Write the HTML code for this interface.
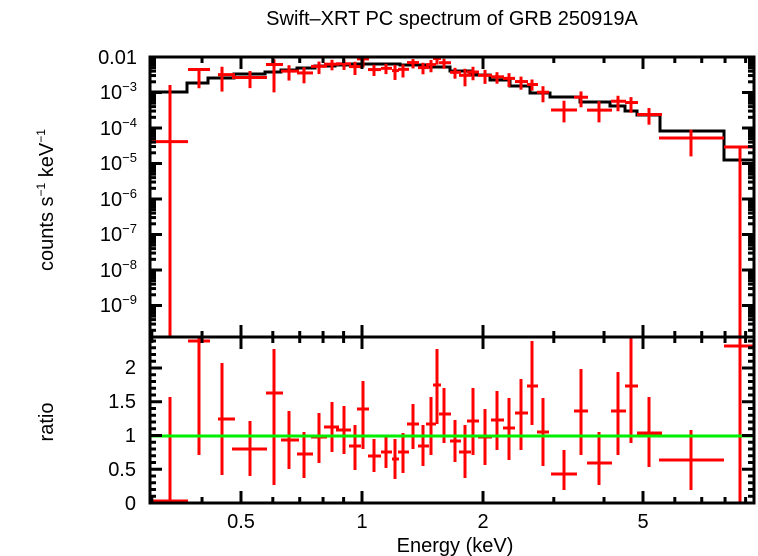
<!DOCTYPE html>
<html><head><meta charset="utf-8"><style>
body{margin:0;background:#fff;width:758px;height:556px;overflow:hidden}
svg{position:absolute;left:0;top:0}
text{font-family:"Liberation Sans",sans-serif;fill:#000}
</style></head><body>
<svg id="s" width="758" height="556" viewBox="0 0 758 556" xmlns="http://www.w3.org/2000/svg">
<text x="452" y="25" font-size="20" text-anchor="middle">Swift–XRT PC spectrum of GRB 250919A</text>
<text transform="translate(53,200) rotate(-90)" font-size="20" text-anchor="middle">counts s<tspan font-size="12" dy="-8">−1</tspan><tspan dy="8"> keV</tspan><tspan font-size="12" dy="-8">−1</tspan></text>
<text transform="translate(53,422) rotate(-90)" font-size="20" text-anchor="middle">ratio</text>
<text x="455" y="552" font-size="20" text-anchor="middle">Energy (keV)</text>
<g font-size="20" text-anchor="end">
<text x="137" y="64">0.01</text>
<text x="137" y="99">10<tspan font-size="13" dy="-8">−3</tspan></text>
<text x="137" y="135">10<tspan font-size="13" dy="-8">−4</tspan></text>
<text x="137" y="170">10<tspan font-size="13" dy="-8">−5</tspan></text>
<text x="137" y="206">10<tspan font-size="13" dy="-8">−6</tspan></text>
<text x="137" y="241">10<tspan font-size="13" dy="-8">−7</tspan></text>
<text x="137" y="277">10<tspan font-size="13" dy="-8">−8</tspan></text>
<text x="137" y="312">10<tspan font-size="13" dy="-8">−9</tspan></text>
<text x="136" y="374">2</text>
<text x="136" y="408">1.5</text>
<text x="136" y="510">0</text>
<text x="136" y="476">0.5</text>
<text x="136" y="442">1</text>
</g>
<g font-size="20" text-anchor="middle">
<text x="241" y="528">0.5</text><text x="362" y="528">1</text><text x="483" y="528">2</text><text x="643" y="528">5</text>
</g>
<g id="g"></g>
</svg>
<script>
var g=document.getElementById('g'),h='';
function L(x1,y1,x2,y2,c,w){h+='<line x1="'+x1+'" y1="'+y1+'" x2="'+x2+'" y2="'+y2+'" stroke="'+c+'" stroke-width="'+w+'"/>';}
var X0=150,X1=754,T=57,M=337,B=503;
function ex(E){return 362+402*Math.log10(E);}
function yl(v){return 57+35.5*(-2-Math.log10(v));}
function yr(r){return 503-67.5*r;}
var st=[[187,92],[208,83],[234,78],[265,74],[281,72],[297,70],[315,68],[335,66],[350,65],[400,64],[430,65],[450,67],[470,71],[490,75],[510,80],[530,86],[550,93],[580,97],[610,102],[625,106],[637,111],[660,115],[724,131],[754,160]];
function my(x){for(var i=0;i<st.length;i++)if(x<st[i][0])return st[i][1];return 160;}
var d='M150,'+st[0][1];
st.forEach(function(s,i){d+=' L'+s[0]+','+s[1];if(i<st.length-1)d+=' L'+s[0]+','+st[i+1][1];});
h+='<path d="'+d+'" fill="none" stroke="#000" stroke-width="3"/>';
var P=[[170,150,188,501,397,503],[199,188,210,341,337,455],[222,218,235,419,363,475],[250,232,267,449,421,476],[274,266,283,393,349,485],[289,281,299,440,411,469],[304,297,313,454,432,478],[319,311,327,437,413,463],[332,324,339,427,402,452],[344,336,351,430,406,454],[355,349,361,446,425,470],[363,357,369,409,381,449],[374,368,381,456,439,472],[386,381,392,452,435,468],[395,392,399,459,439,479],[403,398,409,452,433,473],[413,407,419,424,404,449],[423,418,429,446,425,466],[431,426,436,424,397,455],[437,433,441,385,349,424],[444,439,451,414,388,443],[455,450,461,441,420,462],[465,459,471,452,425,478],[473,467,479,421,388,455],[485,478,492,437,409,465],[497,491,504,420,391,450],[509,503,515,428,398,460],[521,515,528,413,379,450],[532,527,538,386,341,425],[543,537,549,432,398,466],[564,551,577,474,450,490],[581,574,588,411,369,455],[599,587,612,463,432,485],[618,611,626,411,372,455],[631,625,638,386,337,443],[649,637,662,433,397,467],[691,659,724,460,430,490],[740,724,754,346,337,503]];
var R='#f00';
P.forEach(function(p){
 var r=(B-p[3])/67.5, rt=(B-p[4])/67.5, rb=(B-p[5])/67.5;
 L(p[1],p[3],p[2],p[3],R,3);L(p[0],Math.max(p[4],M),p[0],Math.min(p[5],B),R,3);
 var m=my(p[0]);
 function cy(q){return q<=0.001?M:Math.min(M,m-35.5*Math.log10(q));}
 var yc=cy(Math.max(r,0.04));
 L(p[1],yc,p[2],yc,R,3);L(p[0],Math.max(T,cy(rt)),p[0],cy(rb),R,3);
});
L(X0,436,X1,436,'#0e0',3);
h+='<rect x="150" y="57" width="604" height="280" fill="none" stroke="#000" stroke-width="3"/>';
h+='<rect x="150" y="337" width="604" height="166" fill="none" stroke="#000" stroke-width="3"/>';
for(var k=-10;k<=-2;k++){for(var j=1;j<10;j++){var v=j*Math.pow(10,k),y=yl(v);if(y<T||y>M)continue;var len=j==1?12:6;L(X0,y,X0+len,y,'#000',3);L(X1,y,X1-len,y,'#000',3);}}
for(var r=0;r<=2.45;r+=0.1){var y=yr(r),big=Math.abs(r*2-Math.round(r*2))<0.01;var len=big?12:6;L(X0,y,X0+len,y,'#000',3);L(X1,y,X1-len,y,'#000',3);}
[0.3,0.4,0.5,0.6,0.7,0.8,0.9,1,2,3,4,5,6,7,8,9].forEach(function(E){var x=ex(E);if(x<X0||x>X1)return;var big=[0.5,1,2,5].indexOf(E)>=0,len=big?12:6;
 L(x,B,x,B-len,'#000',3);L(x,T,x,T+len,'#000',3);L(x,M-len,x,M+len,'#000',3);});
g.innerHTML=h;
</script>
</body></html>
